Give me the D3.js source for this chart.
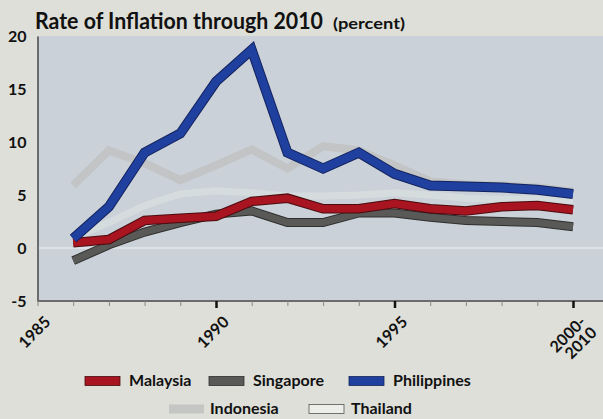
<!DOCTYPE html>
<html lang="en">
<head>
    <meta charset="UTF-8">
    <title>Rate of Inflation through 2010</title>
    <script src="https://d3js.org/d3.v7.min.js"></script>
    <style>
        body { margin: 0; background: #dedfd8; }
        svg { display: block; font-family: Lato, "Open Sans", sans-serif; font-weight: bold; }
        .axis text { font-family: Lato, sans-serif; font-weight: bold; fill: #111; }
    </style>
</head>
<body>
<svg width="603" height="419"></svg>
<script>
    // years (last point is the 2000-2010 average, drawn at 2000)
    const years = [1986, 1987, 1988, 1989, 1990, 1991, 1992, 1993, 1994, 1995, 1996, 1997, 1998, 1999, 2000];

    const indonesia   = [5.9, 9.2, 8.0, 6.4, 7.8, 9.3, 7.5, 9.6, 9.2, 7.8, 6.3, 6.0, 5.9, 5.7, 5.3];
    const thailand    = [1.0, 2.4, 4.0, 5.1, 5.4, 5.2, 4.9, 4.9, 5.0, 5.2, 5.0, 4.7, 4.6, 4.6, 4.4];
    const singapore   = [-1.2, 0.3, 1.5, 2.4, 3.2, 3.5, 2.4, 2.4, 3.3, 3.3, 2.9, 2.6, 2.5, 2.4, 2.0];
    const malaysia    = [0.5, 0.8, 2.6, 2.8, 3.0, 4.4, 4.7, 3.7, 3.7, 4.2, 3.7, 3.5, 3.9, 4.0, 3.6];
    const philippines = [0.9, 3.9, 9.0, 10.8, 15.7, 18.7, 9.0, 7.5, 9.0, 7.0, 5.9, 5.8, 5.7, 5.5, 5.1];

    const yTicks = [20, 15, 10, 5, 0, -5];
    const xLabels = [[1985, ["1985"]], [1990, ["1990"]], [1995, ["1995"]], [2000, ["2000-", "2010"]]];

    const svg = d3.select("svg");

    const x = d3.scaleLinear().domain([1985, 2000]).range([37.5, 573]);
    const y = d3.scaleLinear().domain([-5, 20]).range([301, 36]);

    // plot background
    svg.append("rect")
        .attr("x", x(1985)).attr("y", y(20))
        .attr("width", 603 - x(1985)).attr("height", y(-5) - y(20))
        .attr("fill", "#cbd1d8");

    // faint zero line
    svg.append("line")
        .attr("x1", x(1985)).attr("x2", 603)
        .attr("y1", y(0)).attr("y2", y(0))
        .attr("stroke", "#dde2e6").attr("stroke-width", 2);

    // title
    svg.append("text").attr("x", 35).attr("y", 29).attr("fill", "#111")
        .attr("font-size", 22).attr("textLength", 288).attr("lengthAdjust", "spacingAndGlyphs")
        .text("Rate of Inflation through 2010");
    svg.append("text").attr("x", 333).attr("y", 29).attr("fill", "#111")
        .attr("font-size", 15.5).attr("textLength", 72).attr("lengthAdjust", "spacingAndGlyphs")
        .text("(percent)");

    // axes
    const yAxis = svg.append("g").attr("class", "axis")
        .attr("transform", `translate(${x(1985)},0)`)
        .call(d3.axisLeft(y).tickValues(yTicks).tickSize(0).tickPadding(11).tickFormat(d => String(d)));
    yAxis.select(".domain").attr("stroke", "#6b6b6b").attr("stroke-width", 2);
    yAxis.selectAll("text").attr("font-size", 16);

    const xAxis = svg.append("g").attr("class", "axis")
        .attr("transform", `translate(0,${y(-5)})`)
        .call(d3.axisBottom(x).tickValues(d3.range(1985, 2001)).tickSize(5).tickFormat(""));
    xAxis.select(".domain").attr("d", `M${x(1985)},0H603`).attr("stroke", "#6b6b6b").attr("stroke-width", 2);
    xAxis.selectAll(".tick line").attr("stroke", "#888");
    xAxis.selectAll(".tick").filter(d => d % 5 === 0 && d > 1985)
        .select("line").attr("stroke", "#111").attr("stroke-width", 2.5).attr("y2", 7);

    xLabels.forEach(([yr, lines]) => {
        const t = svg.append("text")
            .attr("transform", `translate(${x(yr) + 14},323) rotate(-45)`)
            .attr("text-anchor", "end").attr("font-size", 16).attr("fill", "#111");
        lines.forEach((s, i) => t.append("tspan").attr("x", 0).attr("dy", i ? "0.95em" : 0).text(s));
    });

    // lines
    const line = d3.line().x((d, i) => x(years[i])).y(d => y(d));

    const series = [
        {data: indonesia, color: "#bdbfbd", width: 8, opacity: 0.7},
        {data: thailand, color: "#e3e8e6", width: 7, opacity: 0.45},
        {data: singapore, color: "#2f302e", width: 9, opacity: 1},
        {data: singapore, color: "#595a57", width: 7, opacity: 1},
        {data: malaysia, color: "#4a0c10", width: 9.5, opacity: 1},
        {data: malaysia, color: "#a8141f", width: 7.5, opacity: 1},
        {data: philippines, color: "#13235e", width: 10, opacity: 1},
        {data: philippines, color: "#2040a0", width: 8, opacity: 1}
    ];
    series.forEach(s => {
        svg.append("path")
            .attr("d", line(s.data))
            .attr("fill", "none")
            .attr("stroke", s.color)
            .attr("stroke-width", s.width)
            .attr("stroke-opacity", s.opacity)
            .attr("stroke-linejoin", "miter");
    });

    // legend
    const legend = [
        {name: "Malaysia", fill: "#a8141f", stroke: "#4a0c10", sx: 85, tx: 129, row: 0},
        {name: "Singapore", fill: "#595a57", stroke: "#2f302e", sx: 209, tx: 253, row: 0},
        {name: "Philippines", fill: "#2040a0", stroke: "#13235e", sx: 349, tx: 393, row: 0},
        {name: "Indonesia", fill: "#c4c6c4", stroke: "none", sx: 169, tx: 210, row: 1},
        {name: "Thailand", fill: "#eceeea", stroke: "#555", sx: 309, tx: 351, row: 1}
    ];
    legend.forEach(l => {
        const cy = l.row ? 409 : 381;
        svg.append("rect")
            .attr("x", l.sx).attr("y", cy - 4.5)
            .attr("width", 35).attr("height", 9)
            .attr("fill", l.fill).attr("stroke", l.stroke).attr("stroke-width", 0.8);
        svg.append("text")
            .attr("x", l.tx).attr("y", l.row ? 414 : 386)
            .attr("font-size", 16).attr("fill", "#111")
            .text(l.name);
    });
</script>
</body>
</html>
